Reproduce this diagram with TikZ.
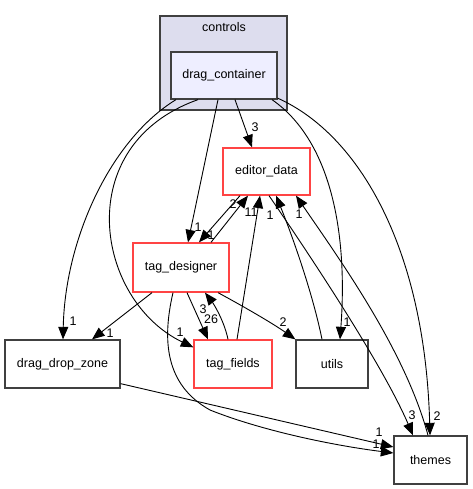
\documentclass[tikz,border=0pt]{standalone}
\usepackage{fontspec}
\setmainfont{Liberation Sans}
\usetikzlibrary{arrows.meta,calc}
\definecolor{cfill}{HTML}{DDDDEE}
\definecolor{nfill}{HTML}{EEEEFF}
\definecolor{gborder}{HTML}{404040}
\definecolor{rborder}{HTML}{FF4444}
\begin{document}
\begin{tikzpicture}[x=1pt,y=-1pt,
  every node/.style={font=\fontsize{12.5}{14}\selectfont, inner sep=0pt},
  dirbox/.style={draw=gborder, line width=1.3pt, fill=white, minimum width=#1, minimum height=48},
  redbox/.style={draw=rborder, line width=1.3pt, fill=white, minimum width=#1, minimum height=48},
  dep/.style={draw=black, line width=0.9pt, -{Triangle[length=12.5pt,width=10pt]}},
  lbl/.style={fill=none}]
\useasboundingbox (0,0) rectangle (472,489);
% cluster
\node[draw=gborder, line width=1.3pt, fill=cfill, minimum width=127, minimum height=94] (cl) at (223.5,63) {};
\node (cltext) at (224,27) {controls};
\node[draw=gborder, line width=1.3pt, fill=nfill, minimum width=106, minimum height=47] (dc) at (224,75.5) {drag\_container};
\node[redbox=87, minimum height=47] (ed) at (266.5,171.5) {editor\_data};
\node[redbox=96, minimum height=49] (td) at (181,267.5) {tag\_designer};
\node[dirbox=115] (ddz) at (62.5,364) {drag\_drop\_zone};
\node[redbox=78] (tf) at (233,364) {tag\_fields};
\node[dirbox=72] (ut) at (332,364) {utils};
\node[dirbox=73] (th) at (430.5,460) {themes};
% edges from drag_container
\draw[dep] ([xshift=11]dc.south) -- ([xshift=-14.5]ed.north);
\draw[dep] ([xshift=-6]dc.south) -- ([xshift=7]td.north);
\draw[dep] ([xshift=-48]dc.south) .. controls (110,140) and (65,240) .. ([xshift=0.5]ddz.north);
\draw[dep] ([xshift=-26]dc.south) .. controls (70,145) and (95,300) .. ([yshift=-8]tf.north west);
\draw[dep] ([xshift=48]dc.south) .. controls (330,140) and (348,230) .. ([xshift=8]ut.north);
\draw[dep] ([yshift=1.5]dc.south east) .. controls (360,135) and (425,250) .. ([xshift=-0.5]th.north);
% tag_designer <-> editor_data
\draw[dep] ([xshift=30]td.north) -- ([xshift=-18.5]ed.south);
\draw[dep] ([xshift=-26.5]ed.south) -- ([xshift=18]td.north);
% into editor_data
\draw[dep] ([xshift=4]tf.north) -- ([xshift=-6.5]ed.south);
\draw[dep] ([xshift=-10]ut.north) .. controls (312,290) and (290,230) .. ([xshift=9.5]ed.south);
\draw[dep] ([xshift=2.5]ed.south) .. controls (320,270) and (385,370) .. ([xshift=-17.5]th.north);
\draw[dep] ([xshift=-2.5]th.north) .. controls (405,350) and (340,260) .. ([xshift=29.5]ed.south);
% from tag_designer
\draw[dep] ([xshift=-29]td.south) -- ([xshift=29.5]ddz.north);
\draw[dep] ([xshift=6]td.south) -- ([xshift=-25]tf.north);
\draw[dep] ([xshift=-5]tf.north) .. controls (224,320) and (213,303) .. ([xshift=24]td.south);
\draw[dep] ([xshift=37]td.south) .. controls (250,310) and (275,325) .. (ut.north west);
\draw[dep] ([xshift=-8]td.south) .. controls (162,340) and (165,385) .. (210,410) .. controls (260,430) and (330,445) .. ([yshift=7]th.west);
\draw[dep] ([yshift=5]ddz.south east) -- ([yshift=13]th.west);
% labels
\node[lbl] (l1) at (255,127) {3};
\node[lbl] (l2) at (198,227) {1};
\node[lbl] (l3) at (73,321) {1};
\node[lbl] (l4) at (180,332) {1};
\node[lbl] (l5) at (347,322) {1};
\node[lbl] (l6) at (437,416) {2};
\node[lbl] (l7) at (233,204) {2};
\node[lbl] (l8) at (211,235) {1};
\node[lbl] (l9) at (251,212) {11};
\node[lbl] (l10) at (270,215) {1};
\node[lbl] (l11) at (299,214) {1};
\node[lbl] (l12) at (110,333) {1};
\node[lbl] (l13) at (203,309) {3};
\node[lbl] (l14) at (211,319) {26};
\node[lbl] (l15) at (283,322) {2};
\node[lbl] (l16) at (412,415) {3};
\node[lbl] (l17) at (379,432) {1};
\node[lbl] (l18) at (376,444) {1};
\end{tikzpicture}
\end{document}
